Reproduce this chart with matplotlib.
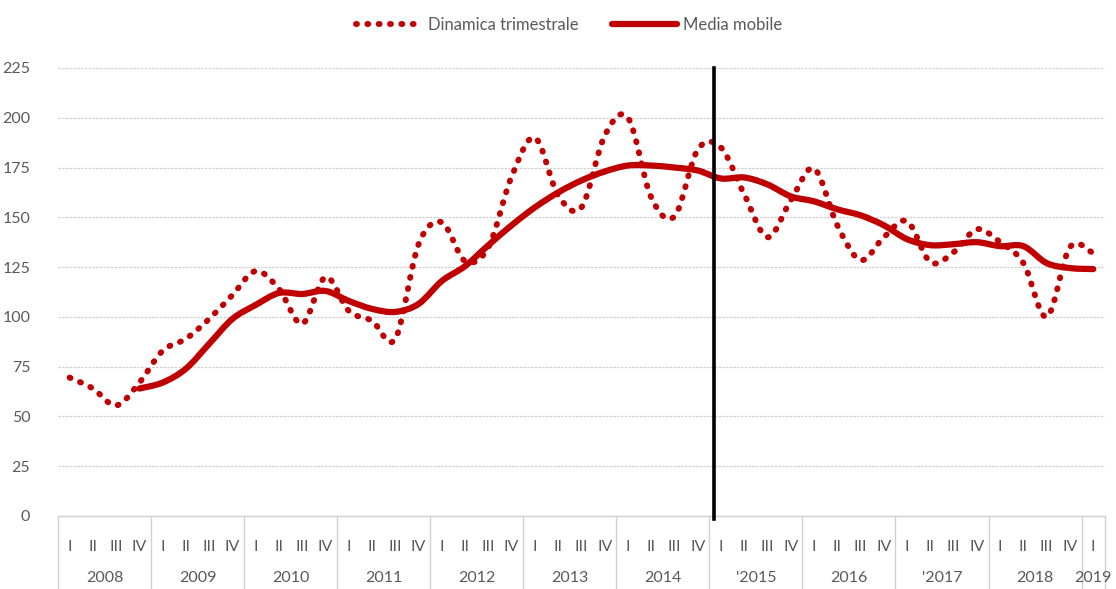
import numpy as np
import matplotlib
matplotlib.use('Agg')
import matplotlib.pyplot as plt
from matplotlib.path import Path
from matplotlib.patches import PathPatch
from matplotlib.lines import Line2D
import matplotlib.transforms as mtransforms

# quarters 2008 I .. 2019 I
years = ['2008', '2009', '2010', '2011', '2012', '2013', '2014',
         "'2015", '2016', "'2017", '2018', '2019']
quarter_names = ['I', 'II', 'III', 'IV']
n_quarters = 45

dinamica = [69.5, 64, 55.5, 67, 83, 89, 99, 111,
            123, 114, 96.5, 120, 103, 98, 89, 136.5,
            147.5, 128, 135, 170.5, 190, 161, 155, 191,
            200, 160, 150.5, 184, 185, 161.5, 140, 158.5,
            174.5, 146, 128.5, 140, 148, 127.5, 132.5, 144,
            137.5, 127, 100, 135, 132]

# moving average starts at 2008 IV
media_start = 3
media = [64, 67, 74, 86.5, 99, 106, 112, 111.5, 113, 108, 104, 102.5, 106.5,
         118, 125.5, 136, 146, 155, 162.5, 168.5, 173, 176, 176, 175, 173.5,
         169.5, 170, 166.5, 160.5, 158, 154, 151, 146, 139, 136, 136.5,
         137.5, 135.5, 135.5, 127, 124.5, 124]

break_pos = 27.7  # vertical marker between 2014 and 2015

RED = '#C00000'
GREY = '#595959'


def smooth_path(x, y):
    """Bezier path through the points, like Excel's smoothed line."""
    pts = np.column_stack([x, y]).astype(float)
    n = len(pts)
    verts = [pts[0]]
    codes = [Path.MOVETO]
    for i in range(n - 1):
        p0 = pts[max(i - 1, 0)]
        p1 = pts[i]
        p2 = pts[i + 1]
        p3 = pts[min(i + 2, n - 1)]
        c1 = p1 + (p2 - p0) / 6.0
        c2 = p2 - (p3 - p1) / 6.0
        verts += [c1, c2, p2]
        codes += [Path.CURVE4] * 3
    return Path(verts, codes)


plt.rcParams['font.family'] = ['Lato', 'DejaVu Sans']
fig = plt.figure(figsize=(11.16, 5.89), dpi=100)
ax = fig.add_axes([0.052, 0.124, 0.938, 0.7606])

x_all = np.arange(n_quarters)
dot_lw = 4.3
dot_style = (0, (0.15, 1.75))

ax.add_patch(PathPatch(smooth_path(x_all, dinamica), fill=False, edgecolor=RED,
                       linewidth=dot_lw, linestyle=dot_style, capstyle='round', zorder=3))
x_media = np.arange(media_start, media_start + len(media))
ax.add_patch(PathPatch(smooth_path(x_media, media), fill=False, edgecolor=RED,
                       linewidth=4.5, capstyle='round', joinstyle='round', zorder=4))

ax.axvline(break_pos, ymin=-0.007, ymax=1, color='black', linewidth=2.6, zorder=5, clip_on=False)

ax.set_xlim(-0.5, n_quarters - 0.5)
ax.set_ylim(0, 225)
ax.set_yticks(np.arange(0, 226, 25))
ax.grid(axis='y', color='#d0d0d0', linewidth=0.9, linestyle=(0, (2, 1)))
ax.set_axisbelow(True)
for side in ['left', 'right', 'top']:
    ax.spines[side].set_visible(False)
ax.spines['bottom'].set_color('#d0d0d0')
ax.spines['bottom'].set_linewidth(1.0)

ax.tick_params(axis='y', length=0, pad=20, labelsize=11.5, labelcolor=GREY)
quarter_labels = [quarter_names[i % 4] for i in range(n_quarters)]
ax.set_xticks(x_all)
ax.set_xticklabels(quarter_labels)
ax.tick_params(axis='x', length=0, pad=17, labelsize=11.5, labelcolor=GREY)

# year group labels and separators
trans = mtransforms.blended_transform_factory(ax.transData, ax.transAxes)
for k, yr in enumerate(years):
    start = 4 * k - 0.5
    end = min(4 * k + 3.5, n_quarters - 0.5)
    ax.text((start + end) / 2, -0.139, yr, transform=trans, ha='center', va='center',
            fontsize=11.5, color=GREY)
bounds = [4 * k - 0.5 for k in range(len(years))] + [n_quarters - 0.5]
for b in bounds:
    ax.plot([b, b], [0, -0.17], transform=trans, color='#d0d0d0', linewidth=1.0,
            clip_on=False)

handles = [Line2D([], [], color=RED, linewidth=dot_lw, linestyle=dot_style,
                  dash_capstyle='round'),
           Line2D([], [], color=RED, linewidth=4.5, solid_capstyle='round')]
fig.legend(handles, ['Dinamica trimestrale', 'Media mobile'], loc='center',
           bbox_to_anchor=(0.51, 0.958), ncol=2, frameon=False, fontsize=12,
           labelcolor=GREY, handlelength=3.9, columnspacing=2.0, handletextpad=0.4)

fig.savefig('out.png', dpi=100)
